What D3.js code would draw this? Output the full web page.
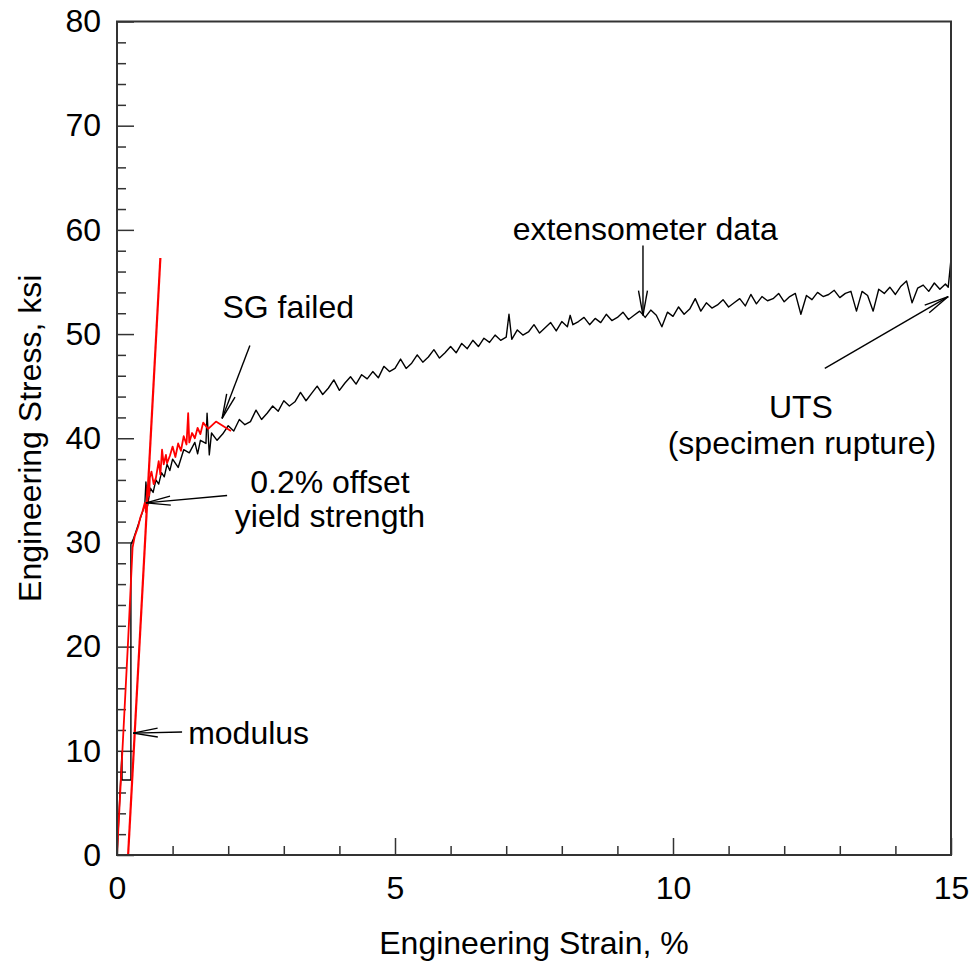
<!DOCTYPE html>
<html><head><meta charset="utf-8">
<script src="https://cdn.jsdelivr.net/npm/d3@7"></script>
<style>body{margin:0;background:#fff}svg{display:block}text{font-family:"Liberation Sans",Arial,sans-serif;fill:#000}</style>
</head><body>
<svg id="c" width="973" height="967"></svg>
<script>
// ---- data ----
const xMajorTicks = [0, 5, 10, 15];
const xMinorTicks = [1,2,3,4,6,7,8,9,11,12,13,14];
const yMajorTicks = [0,10,20,30,40,50,60,70,80];
const yMinorTicks = [2,4,6,8,12,14,16,18,22,24,26,28,32,34,36,38,42,44,46,48,52,54,56,58,62,64,66,68,72,74,76,78];

// extensometer (black)
const extStrain = [0,0.09,0.09,0.25,0.25,0.3,0.35,0.4,0.45,0.5,0.52,0.55,0.6,0.65,0.7,0.75,0.8,0.85,0.9,0.95,1.0,
 1.1,1.2,1.3,1.4,1.45,1.5,1.6,1.62,1.66,1.7,1.8,1.9,2.0,2.1,2.2,2.3,2.4,2.5,2.6,2.7,2.8,2.9,3.0,
 3.1,3.2,3.3,3.4,3.5,3.6,3.7,3.8,3.9,4.0,4.1,4.2,4.3,4.4,4.5,4.6,4.7,4.8,4.9,5.0,
 5.1,5.2,5.3,5.4,5.5,5.6,5.7,5.8,5.9,6.0,6.1,6.2,6.3,6.4,6.5,6.6,6.7,6.8,6.9,7.0,7.05,
 7.1,7.2,7.3,7.4,7.5,7.6,7.7,7.8,7.9,8.0,8.1,8.15,8.2,8.3,8.4,8.5,8.6,8.7,8.8,8.9,9.0,
 9.1,9.2,9.3,9.4,9.5,9.6,9.7,9.8,9.9,10.0,10.1,10.2,10.3,10.4,10.5,10.6,10.7,10.8,10.9,11.0,
 11.1,11.2,11.3,11.4,11.5,11.6,11.7,11.8,11.9,12.0,12.1,12.2,12.3,12.4,12.5,12.6,12.7,12.8,12.9,13.0,
 13.1,13.2,13.3,13.4,13.5,13.6,13.7,13.8,13.9,14.0,14.1,14.2,14.3,14.4,14.5,14.6,14.7,14.8,14.9,14.95,15.0,15.0,15.0];
const extStress = [0,9.9,7.2,7.2,29.8,30.4,31.2,32.0,32.8,33.6,35.8,33.5,35.2,34.8,36.0,35.6,36.7,36.3,37.5,36.9,38.0,
 37.2,38.9,38.6,39.6,38.5,39.8,39.5,42.4,38.4,40.5,39.8,40.4,41.2,40.7,41.8,41.3,41.6,42.7,41.8,42.4,43.1,42.6,43.6,
 43.1,43.5,44.4,43.6,44.3,45.0,44.2,44.8,45.6,44.6,45.3,45.9,45.2,46.1,45.7,46.4,45.8,46.9,46.4,46.7,
 47.6,46.7,47.2,48.0,47.3,47.8,48.5,47.7,48.2,48.8,48.2,49.1,48.6,49.4,48.8,49.6,49.2,49.9,49.4,49.7,51.9,
 49.5,50.4,49.9,50.2,50.9,50.1,50.6,51.1,50.3,51.2,50.7,51.8,50.9,51.2,51.6,50.9,51.5,51.1,51.9,51.3,51.6,
 52.1,51.4,51.8,52.2,51.6,52.3,51.8,50.7,52.1,51.7,52.6,51.9,52.4,53.4,52.2,53.0,52.5,52.8,53.3,52.6,
 53.0,53.4,52.7,53.8,52.9,53.6,53.2,53.4,53.9,53.1,53.6,53.9,51.9,53.7,53.3,54.0,53.6,53.8,54.2,53.5,
 53.9,54.1,52.2,54.1,53.7,52.2,54.3,53.9,54.5,53.8,54.6,55.1,53.0,54.4,54.7,54.1,54.9,54.3,54.8,54.5,57.2,53.5,54.7];

// strain gage (red)
const sgStrain = [0,0.1,0.2,0.28,0.32,0.38,0.42,0.46,0.5,0.52,0.55,0.58,0.59,0.62,0.66,0.7,0.75,0.78,0.81,0.84,0.88,0.9,0.95,1.0,1.05,1.1,1.15,1.2,1.25,1.28,1.3,1.35,1.4,1.45,1.5,1.55,1.64,1.78,2.05];
const sgStress = [0,10.3,20.6,29.5,30.6,31.5,32.4,33.0,33.8,32.9,35.4,34.5,36.2,36.8,35.6,36.2,37.8,36.5,38.9,37.5,38.4,37.6,38.3,39.2,38.2,39.5,38.8,40.2,39.4,42.4,39.6,40.5,40.0,41.0,40.4,41.5,40.9,41.6,40.7];

// 0.2% offset line (red)
const offStrain = [0.2, 0.78];
const offStress = [0, 57.3];

// annotations (data coordinates)
const labels = [
 {t:"SG failed", x:3.08, y:52.6, a:"middle"},
 {t:"0.2% offset", x:3.83, y:35.8, a:"middle"},
 {t:"yield strength", x:3.83, y:32.6, a:"middle"},
 {t:"modulus", x:1.28, y:11.7, a:"start"},
 {t:"extensometer data", x:9.5, y:60.1, a:"middle"},
 {t:"UTS", x:12.3, y:43.0, a:"middle"},
 {t:"(specimen rupture)", x:12.32, y:39.6, a:"middle"}
];
const arrows = [
 {x1:2.39, y1:48.9, x2:1.89, y2:41.9},
 {x1:1.98, y1:34.5, x2:0.52, y2:33.8},
 {x1:1.17, y1:11.8, x2:0.29, y2:11.7},
 {x1:9.46, y1:58.5, x2:9.46, y2:51.8},
 {x1:12.73, y1:46.7, x2:14.95, y2:53.6}
];

// ---- drawing ----
const svg = d3.select("#c");
const x = d3.scaleLinear().domain([0,15]).range([117,951]);
const y = d3.scaleLinear().domain([0,80]).range([855,21.5]);
const FS = 32;

// minor ticks
svg.append("g").attr("transform","translate(0,855)")
  .call(d3.axisBottom(x).tickValues(xMinorTicks).tickSize(-9).tickFormat(""))
  .call(g=>{g.select(".domain").remove(); g.selectAll("line").attr("stroke","#333").attr("stroke-width",1.5);});
svg.append("g").attr("transform","translate(117,0)")
  .call(d3.axisLeft(y).tickValues(yMinorTicks).tickSize(-9).tickFormat(""))
  .call(g=>{g.select(".domain").remove(); g.selectAll("line").attr("stroke","#333").attr("stroke-width",1.5);});
// major ticks
svg.append("g").attr("transform","translate(0,855)")
  .call(d3.axisBottom(x).tickValues(xMajorTicks).tickSize(-17).tickPadding(21).tickFormat(d3.format("d")))
  .call(g=>{g.select(".domain").remove(); g.selectAll("line").attr("stroke","#333").attr("stroke-width",1.5);
    g.selectAll("text").attr("font-size",FS).attr("font-family","Liberation Sans, Arial, sans-serif").attr("fill","#000");});
svg.append("g").attr("transform","translate(117,0)")
  .call(d3.axisLeft(y).tickValues(yMajorTicks).tickSize(-17).tickPadding(16).tickFormat(d3.format("d")))
  .call(g=>{g.select(".domain").remove(); g.selectAll("line").attr("stroke","#333").attr("stroke-width",1.5);
    g.selectAll("text").attr("font-size",FS).attr("font-family","Liberation Sans, Arial, sans-serif").attr("fill","#000");});

// data lines
const line = d3.line().x(d=>x(d[0])).y(d=>y(d[1]));
const ext = extStrain.map((s,i)=>[s,extStress[i]]);
const sg = sgStrain.map((s,i)=>[s,sgStress[i]]);
const off = offStrain.map((s,i)=>[s,offStress[i]]);
svg.append("path").attr("d",line(ext)).attr("fill","none").attr("stroke","#000").attr("stroke-width",1.4).attr("stroke-linejoin","round");
svg.append("path").attr("d",line(sg)).attr("fill","none").attr("stroke","#ff0000").attr("stroke-width",1.8).attr("stroke-linejoin","round");
svg.append("path").attr("d",line(off)).attr("fill","none").attr("stroke","#ff0000").attr("stroke-width",2.2);

// frame
svg.append("rect").attr("x",x(0)).attr("y",y(80)).attr("width",x(15)-x(0)).attr("height",y(0)-y(80))
  .attr("fill","none").attr("stroke","#333").attr("stroke-width",2);

// arrows
const ag = svg.append("g").attr("stroke","#000").attr("stroke-width",1.4).attr("fill","none");
arrows.forEach(a=>{
  const X1=x(a.x1),Y1=y(a.y1),X2=x(a.x2),Y2=y(a.y2);
  ag.append("line").attr("x1",X1).attr("y1",Y1).attr("x2",X2).attr("y2",Y2);
  const ang=Math.atan2(Y1-Y2,X1-X2), L=25, h=0.18;
  [ang-h,ang+h].forEach(t=>{
    ag.append("line").attr("x1",X2).attr("y1",Y2).attr("x2",X2+L*Math.cos(t)).attr("y2",Y2+L*Math.sin(t));
  });
});

// labels
svg.selectAll("text.ann").data(labels).join("text").attr("class","ann")
  .attr("x",d=>x(d.x)).attr("y",d=>y(d.y)).attr("dy","0.35em")
  .attr("text-anchor",d=>d.a).attr("font-size",FS).text(d=>d.t);

// axis titles
svg.append("text").attr("x",(x(0)+x(15))/2).attr("y",943).attr("dy","0.35em").attr("text-anchor","middle")
  .attr("font-size",FS).text("Engineering Strain, %");
svg.append("text").attr("transform","translate(30,"+((y(0)+y(80))/2)+") rotate(-90)").attr("dy","0.35em")
  .attr("text-anchor","middle").attr("font-size",FS).text("Engineering Stress, ksi");
</script>
</body></html>
